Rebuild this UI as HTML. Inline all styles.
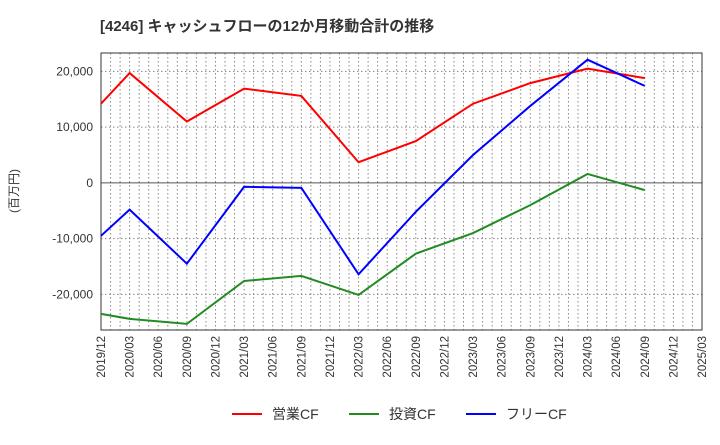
<!DOCTYPE html>
<html><head><meta charset="utf-8"><style>
body{margin:0;background:#fff;font-family:"Liberation Sans","Noto Sans CJK JP",sans-serif;}
</style></head><body>
<svg id="c" width="720" height="440" xmlns="http://www.w3.org/2000/svg">
<text x="100" y="31" font-size="15" font-weight="bold" fill="#333">[4246]  キャッシュフローの12か月移動合計の推移</text>
<text transform="translate(18,191) rotate(-90)" text-anchor="middle" font-size="12" fill="#333">(百万円)</text>
<g id="grid"></g><g id="axes"></g><g id="series"></g>
<g>
<line x1="232" y1="414" x2="262" y2="414" stroke="#f00" stroke-width="2"/><text x="272" y="419" font-size="14" fill="#333">営業CF</text>
<line x1="349" y1="414" x2="379" y2="414" stroke="#228b22" stroke-width="2"/><text x="389" y="419" font-size="14" fill="#333">投資CF</text>
<line x1="466" y1="414" x2="496" y2="414" stroke="#00f" stroke-width="2"/><text x="506" y="419" font-size="14" fill="#333">フリーCF</text>
</g>
</svg>
<script>
const categories=["2019/12","2020/03","2020/06","2020/09","2020/12","2021/03","2021/06","2021/09","2021/12","2022/03","2022/06","2022/09","2022/12","2023/03","2023/06","2023/09","2023/12","2024/03","2024/06","2024/09","2024/12","2025/03"];
const dataIdx=[0,1,3,5,7,9,11,13,15,17,19];
const operatingCF=[14200,19700,11000,16900,15600,3700,7500,14200,17900,20500,18800];
const investingCF=[-23500,-24400,-25300,-17600,-16700,-20100,-12700,-9000,-4000,1600,-1300];
const freeCF=[-9500,-4800,-14500,-700,-900,-16400,-5200,5000,13800,22100,17400];
const yTicks=[-20000,-10000,0,10000,20000];
const yLabels=["-20,000","-10,000","0","10,000","20,000"];
const L=101,R=702,T=53,B=330,yMin=-26400,yMax=23300;
const NS="http://www.w3.org/2000/svg";
const xs=i=>L+(R-L)*i/(categories.length-1);
const ys=v=>B-(v-yMin)/(yMax-yMin)*(B-T);
function mk(t,a,p){const e=document.createElementNS(NS,t);for(const k in a)e.setAttribute(k,a[k]);p.appendChild(e);return e;}
const g=document.getElementById('grid'),ax=document.getElementById('axes'),s=document.getElementById('series');
const months=(categories.length-1)*3;
for(let m=1;m<months;m++){const x=L+(R-L)*m/months;
const l=mk('line',{x1:x,y1:T,x2:x,y2:B,stroke:'#888','stroke-dasharray':'1.5,2.5','stroke-width':1},g);

}
yTicks.forEach((v,i)=>{const y=ys(v);
const l=mk('line',{x1:L,y1:y,x2:R,y2:y,stroke:v===0?'#555':'#888','stroke-dasharray':v===0?'none':'1.5,2.5','stroke-width':1},g);


const t=mk('text',{x:L-8,y:y+4,'text-anchor':'end','font-size':12,fill:'#333'},ax);t.textContent=yLabels[i];

});
const f=mk('rect',{x:L,y:T,width:R-L,height:B-T,fill:'none',stroke:'#333','stroke-width':1},ax);


categories.forEach((c,i)=>{const x=xs(i);
const t=mk('text',{transform:`translate(${x+4},${B+6}) rotate(-90)`,'text-anchor':'end','font-size':11.5,fill:'#333'},ax);t.textContent=c;

});
[[operatingCF,'#f00','operating-cf-line'],[investingCF,'#228b22','investing-cf-line'],[freeCF,'#00f','free-cf-line']].forEach(([d,col,n])=>{
const p=mk('polyline',{points:d.map((v,i)=>xs(dataIdx[i])+','+ys(v)).join(' '),fill:'none',stroke:col,'stroke-width':2},s);

});
</script>
</body></html>
